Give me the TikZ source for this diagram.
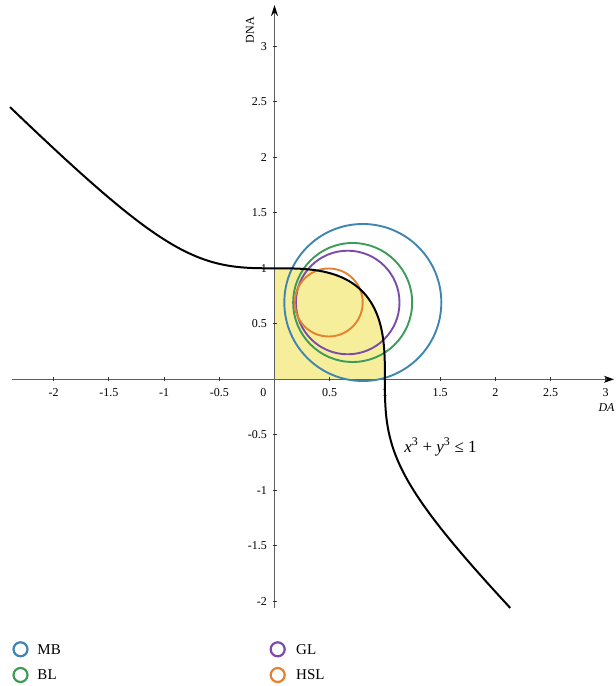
\documentclass[tikz,border=0pt]{standalone}
\usepackage{fontspec}
\setmainfont{Liberation Serif}
\usetikzlibrary{arrows.meta}
\definecolor{mbblue}{RGB}{62,134,176}
\definecolor{blgreen}{RGB}{61,155,90}
\definecolor{glpurple}{RGB}{122,75,170}
\definecolor{hslorange}{RGB}{229,130,47}
\definecolor{regionyellow}{RGB}{246,238,155}
\definecolor{axisgray}{RGB}{95,95,95}
\begin{document}
\begin{tikzpicture}[x=1pt,y=-1pt,
  declare function={cbrtp(\v)=exp(ln(\v)/3);},
  axisline/.style={draw=axisgray,line width=1.3pt},
  tickmark/.style={draw=black!80,line width=0.9pt},
  xlab/.style={anchor=north,inner sep=0pt,font=\fontsize{12}{12}\selectfont},
  ylab/.style={anchor=east,inner sep=0pt,font=\fontsize{12}{12}\selectfont},
  curveline/.style={draw=black,line width=2pt},
  ring/.style={line width=1.9pt},
  legicon/.style={circle,draw,line width=2.2pt,minimum size=14pt,inner sep=0pt},
  legtext/.style={anchor=west,inner sep=0pt,font=\fontsize{15}{15}\selectfont}]
\useasboundingbox (0,0) rectangle (616,686);
\begin{scope}[shift={(274.5,379.3)},x=110.4pt,y=111pt]
  % feasible region
  \fill[regionyellow] (0,0) -- plot[domain=0:0.7937,samples=60] (\x,{cbrtp(1-(\x)*(\x)*(\x))})
     -- plot[domain=0.7937:0,samples=60] ({cbrtp(1-(\x)*(\x)*(\x))},\x) -- cycle;
  % axes
  \draw[axisline,-{Stealth[length=10pt,width=7pt,color=black]}] (-2.376,0) -- (3.075,0);
  \draw[axisline,line width=1.7pt,-{Stealth[length=11pt,width=7pt,color=black]}] (0,-2.061) -- (0,3.372);
  \foreach \v/\n in {-2/a,-1.5/b,-1/c,-0.5/d,0.5/e,1/f,1.5/g,2/h,2.5/i,3/j}{
    \draw[tickmark] (\v,0) ++(0,-2pt) -- ++(0,4.5pt);
    \node[xlab] (xl\n) at ([yshift=-8.7pt]\v,0) {\v};
  }
  \foreach \v/\n in {-2/a,-1.5/b,-1/c,-0.5/d,0.5/e,1/f,1.5/g,2/h,2.5/i,3/j}{
    \draw[tickmark] (0,\v) ++(-2pt,0) -- ++(4.5pt,0);
    \node[ylab] (yl\n) at ([xshift=-7.5pt]0,\v) {\v};
  }
  \node[inner sep=0pt,font=\fontsize{12}{12}\selectfont] (orig) at ([xshift=-11.2pt,yshift=-13pt]0,0) {0};
  % circles
  \draw[ring,mbblue] (0.800,0.692) circle[radius=78.5pt];
  \draw[ring,blgreen] (0.708,0.692) circle[radius=59.5pt];
  \draw[ring,glpurple] (0.663,0.692) circle[radius=51.8pt];
  \draw[ring,hslorange] (0.491,0.692) circle[radius=34pt];
  % curve x^3+y^3=1
  \draw[curveline,line join=round] plot[domain=-2.396:0.7937,samples=160] (\x,{cbrtp(1-(\x)*(\x)*(\x))})
     -- plot[domain=0.7937:-2.06,samples=160] ({cbrtp(1-(\x)*(\x)*(\x))},\x);
\end{scope}
% axis titles
\node[rotate=90,inner sep=0pt,font=\fontsize{12}{12}\selectfont] (dna) at (250,30) {DNA};
\node[inner sep=0pt,font=\fontsize{12}{12}\itshape] (da) at (606.5,408) {DA};
% inequality
\node[inner sep=0pt,font=\fontsize{17}{17}\selectfont] (ineq) at (440.5,447)
  {\textit{x}\textsuperscript{3} + \textit{y}\textsuperscript{3} ≤ 1};
% legend
\node[legicon,draw=mbblue] (lmb) at (20.5,649.3) {};
\node[legtext] (tmb) at (37.3,649.3) {MB};
\node[legicon,draw=blgreen] (lbl) at (20.5,675) {};
\node[legtext] (tbl) at (37.3,675) {BL};
\node[legicon,draw=glpurple] (lgl) at (277.7,649.3) {};
\node[legtext] (tgl) at (296,649.3) {GL};
\node[legicon,draw=hslorange] (lhsl) at (277.7,675) {};
\node[legtext] (thsl) at (296,675) {HSL};
\end{tikzpicture}
\end{document}
